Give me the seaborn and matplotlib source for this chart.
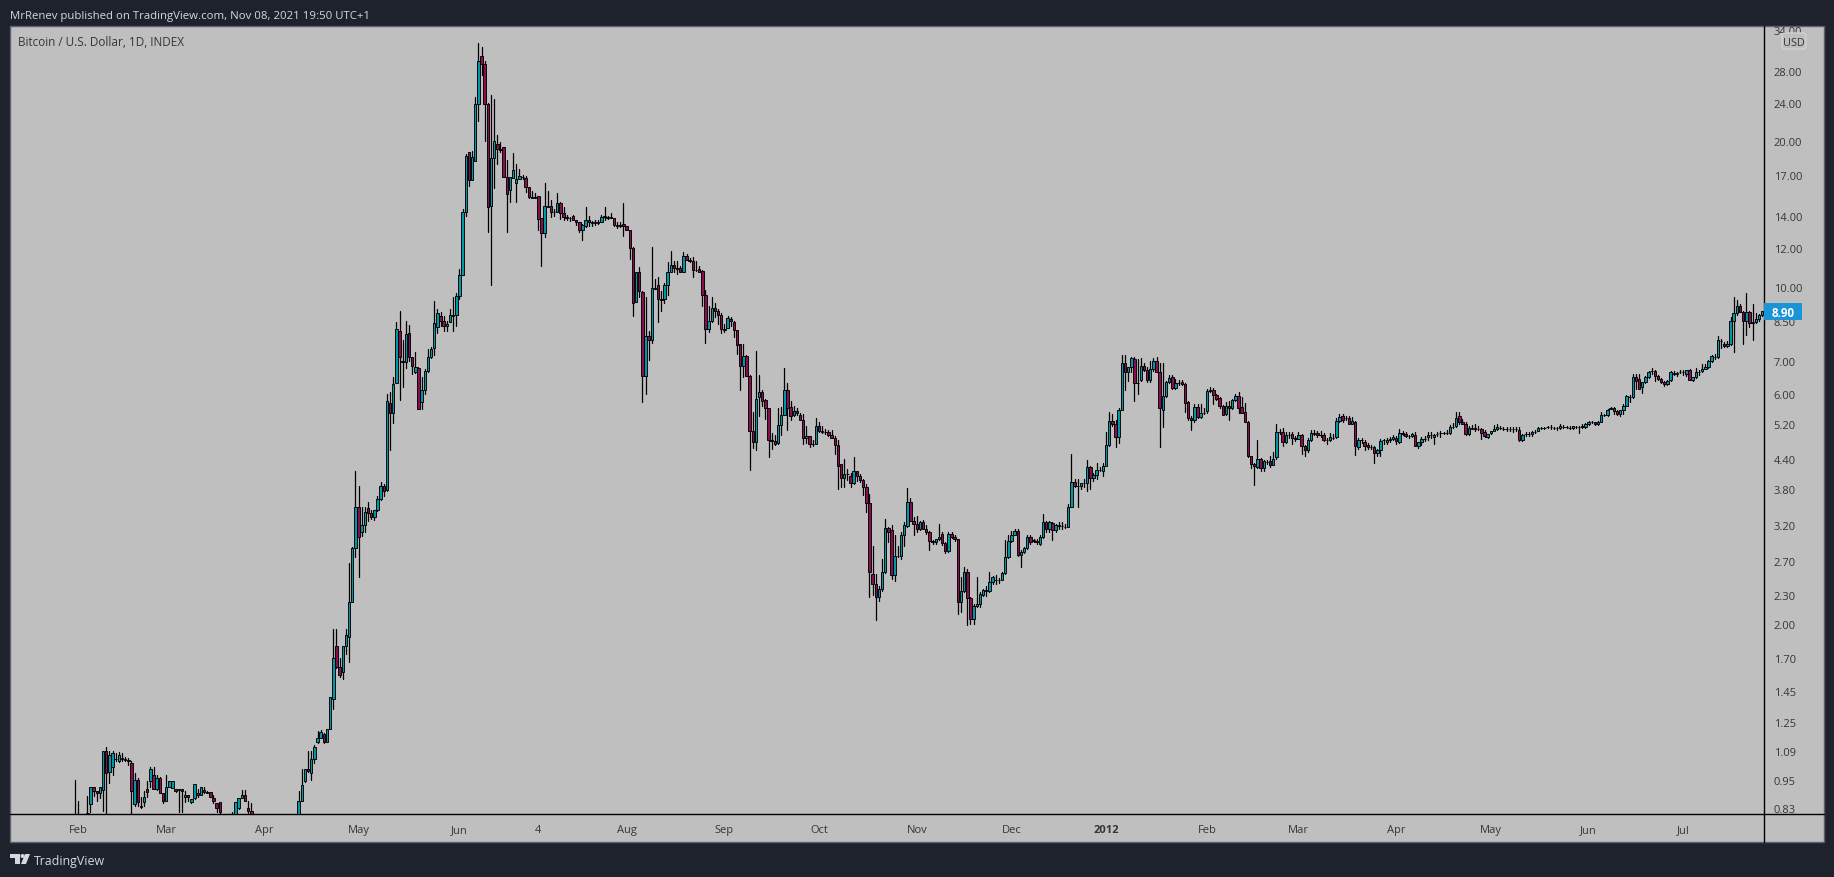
"""BTC/USD daily candles, TradingView light-grey layout (Feb 2011 - Jul 2012)."""
import numpy as np
import pandas as pd
import matplotlib
matplotlib.use("Agg")
import matplotlib.pyplot as plt
from matplotlib.patches import Rectangle, FancyBboxPatch, Circle, Polygon
import seaborn as sns

sns.set_theme(style="white")
plt.rcParams["font.family"] = ["Open Sans", "DejaVu Sans"]

# ── Data (USD, one entry per daily bar) ──────────────────────────────────────
opens = [
    .78,.78,.78,.78,.80,.845,.92,.90,.89,.905,
    1.09,.985,1.01,1.05,1.04,1.055,1.05,1.045,1.03,.845,
    .95,.84,.855,.91,.945,.97,.91,.96,.89,.86,
    .92,.915,.91,.91,.91,.875,.885,.855,.87,.89,
    .885,.905,.895,.895,.87,.85,.855,.79,.78,.78,
    .78,.80,.83,.87,.885,.83,.82,
    .78,.77,.76,.75,.74,.73,.72,.71,.70,.72,.74,.75,.77,.78,
    .80,.86,.945,1.00,.98,1.05,1.14,1.16,1.18,1.14,1.21,1.40,1.80,1.63,1.59,1.80,
    1.88,2.22,2.87,3.49,3.10,3.20,3.47,3.39,3.33,3.44,
    3.63,3.86,3.79,5.75,5.47,6.32,8.09,7.0,6.97,8.0,
    7.15,6.65,6.78,5.77,6.11,6.68,7.15,7.46,8.25,8.7,
    8.49,8.3,8.45,8.75,8.73,9.58,10.55,14.3,19.0,16.65,
    18.2,23.9,30.0,28.9,23.9,14.7,18.5,19.8,19.3,19.5,
    16.9,15.85,16.8,16.4,16.72,16.9,16.8,16.1,15.35,15.35,
    15.4,13.9,12.9,14.7,14.7,14.3,14.3,14.9,14.2,13.95,
    13.9,14.0,13.75,13.6,13.1,13.35,13.75,13.6,13.6,13.6,
    13.6,13.95,13.95,13.95,13.9,13.4,13.4,13.5,13.35,13.1,
    12.0,9.3,10.7,9.75,6.53,7.9,7.75,9.95,10.1,9.43,
    9.45,10.1,10.75,11.1,10.93,10.95,10.75,11.58,11.35,11.3,
    10.85,10.9,10.8,9.6,8.17,8.5,9.03,8.9,8.75,8.17,
    8.2,8.57,8.45,8.13,7.6,6.85,7.17,6.53,5.02,4.77,
    5.9,6.05,5.82,5.6,4.8,4.78,4.75,5.17,5.42,6.1,
    5.63,5.42,5.53,5.42,5.3,4.85,4.9,4.73,4.72,5.14,
    5.02,5.0,5.0,4.93,4.85,4.7,
    4.29,4.01,4.09,4.05,3.92,4.15,4.05,3.97,3.85,3.56,
    2.54,2.42,2.27,2.36,2.56,3.16,3.13,2.53,2.77,2.76,
    3.05,3.19,3.58,3.27,3.22,3.15,3.25,3.15,3.1,2.97,
    2.95,3.0,3.07,2.94,2.83,3.07,3.03,3.0,2.22,2.34,
    2.56,2.26,2.05,2.18,2.2,2.3,2.35,2.34,2.44,2.47,
    2.46,2.47,2.55,2.75,2.97,3.06,3.12,2.78,2.82,2.87,
    3.03,2.98,2.97,
    2.93,3.03,3.25,3.14,3.23,3.13,3.20,3.19,3.18,3.18,
    3.50,3.93,3.87,3.86,3.92,3.92,4.22,4.01,4.07,4.17,
    4.15,4.25,4.69,5.27,5.20,4.88,5.55,6.95,6.67,6.80,
    7.08,6.32,6.40,6.85,6.72,6.40,6.75,7.00,6.65,5.55,
    5.92,6.35,6.50,6.17,6.30,6.33,6.27,5.78,5.35,5.28,
    5.63,5.37,5.48,5.53,6.08,6.12,5.97,5.87,5.66,5.44,
    5.66,5.60,5.82,5.92,5.62,5.50,5.25,4.45,4.29,4.22,
    4.39,4.20,4.33,4.35,4.27,4.44,
    5.00,5.00,4.76,4.93,4.95,4.85,4.84,4.92,4.68,4.58,
    4.80,4.97,4.97,4.92,4.92,4.82,4.81,4.86,4.87,5.27,
    5.40,5.33,5.33,5.20,5.24,4.66,4.80,4.76,4.69,4.66,
    4.65,4.53,4.58,4.80,4.76,4.80,4.84,4.86,4.77,4.97,
    4.95,4.90,4.90,4.93,4.68,4.77,4.84,4.88,4.92,4.87,
    4.95,4.97,4.97,4.97,4.97,5.12,5.14,5.40,5.25,5.20,
    4.95,5.10,5.10,5.08,5.08,5.00,4.88,4.97,5.02,5.07,
    5.10,5.08,5.07,5.06,5.07,5.07,5.05,4.82,4.95,4.95,
    4.95,5.00,5.02,5.10,5.10,5.12,5.11,5.10,5.10,5.10,
    5.12,5.12,5.10,5.10,5.12,5.13,5.12,5.12,5.18,5.25,
    5.23,5.18,5.25,5.43,5.43,5.58,5.60,5.52,5.45,5.55,
    5.67,5.90,5.90,6.50,6.44,6.20,6.33,6.50,6.68,6.68,
    6.53,6.43,6.34,6.28,6.40,6.63,6.63,6.66,6.66,6.58,
    6.72,6.40,6.50,6.66,6.68,6.76,6.80,7.02,7.15,7.15,
    7.70,7.62,7.55,7.60,8.49,8.80,9.13,8.85,8.49,8.87,
    8.40,8.45,8.55,8.73,
]
highs = [
    .95,.86,.79,.79,.88,.92,.92,.90,.92,1.09,
    1.11,1.09,1.09,1.08,1.085,1.08,1.06,1.055,1.04,.98,
    .96,.875,.90,.945,1.01,1.01,.97,.965,.89,.97,
    .945,.945,.91,.91,.91,.90,.885,.865,.93,.91,
    .92,.92,.90,.895,.885,.85,.855,.80,.80,.80,
    .815,.855,.87,.905,.905,.86,.85,
    .79,.78,.77,.76,.75,.74,.73,.72,.72,.74,.75,.77,.78,.79,
    .90,1.00,1.00,1.09,1.09,1.12,1.20,1.205,1.19,1.21,1.41,1.95,1.95,1.70,1.80,1.95,
    2.67,2.88,4.15,3.86,3.49,3.49,3.58,3.44,3.44,3.68,
    3.93,3.90,6.0,6.05,6.5,8.45,8.9,7.75,8.5,8.33,
    7.15,7.33,6.82,6.5,6.75,7.43,7.5,9.33,8.99,8.85,
    8.7,8.49,8.99,9.5,9.7,10.88,14.49,18.8,19.0,19.1,
    24.75,32.0,31.4,29.3,24.0,25.0,24.5,20.6,19.95,19.5,
    18.3,16.9,18.9,18.0,17.54,17.05,16.95,16.1,15.8,15.65,
    15.45,13.9,16.4,15.8,15.15,14.5,15.65,14.95,14.6,14.1,
    13.95,14.1,13.75,13.6,13.5,14.6,14.0,13.7,13.75,13.75,
    14.1,14.6,14.0,14.2,13.9,13.6,13.6,14.9,13.35,13.1,
    12.1,10.72,11.0,9.8,9.5,8.1,12.1,10.37,10.45,9.8,
    10.2,11.25,11.85,11.3,11.3,11.05,11.8,11.7,11.45,11.5,
    11.3,11.05,10.85,9.85,9.1,9.5,9.25,9.0,8.8,8.35,
    8.7,8.65,8.5,8.15,7.6,7.6,7.2,6.55,5.5,7.35,
    6.55,6.1,5.85,5.6,4.98,4.93,5.6,5.63,6.78,6.3,
    5.8,5.65,5.6,5.47,5.45,5.15,4.9,4.8,5.35,5.25,
    5.15,5.07,5.05,5.05,4.9,4.8,
    4.29,4.39,4.19,4.1,4.43,4.15,4.09,4.0,3.9,3.72,
    2.9,2.54,2.4,2.72,3.3,3.18,3.2,3.05,2.9,3.1,
    3.25,3.83,3.65,3.33,3.35,3.27,3.28,3.2,3.12,2.98,
    3.0,3.22,3.1,2.95,3.1,3.1,3.05,3.0,2.5,2.62,
    2.6,2.27,2.2,2.5,2.33,2.36,2.4,2.56,2.51,2.53,
    2.49,2.56,2.98,3.05,3.12,3.14,3.14,2.84,2.89,3.05,
    3.05,3.0,3.0,
    3.05,3.38,3.27,3.27,3.25,3.22,3.25,3.25,3.22,3.55,
    4.50,4.00,4.00,3.92,4.00,4.37,4.25,4.10,4.32,4.22,
    4.30,5.00,5.50,5.45,5.30,5.60,7.20,7.20,6.80,7.15,
    7.15,7.08,7.10,6.95,6.80,7.00,7.10,7.15,6.95,6.95,
    6.37,6.55,6.57,6.45,6.42,6.40,6.30,5.80,5.40,5.70,
    5.70,5.70,5.60,6.15,6.20,6.17,6.00,5.90,5.68,5.78,
    5.80,5.85,5.98,6.05,5.90,5.75,5.26,4.46,4.30,4.80,
    4.42,4.37,4.37,4.45,4.54,5.20,
    5.08,5.10,5.00,5.00,5.00,4.90,5.00,4.96,4.70,4.85,
    5.05,5.05,5.03,5.03,4.97,4.85,4.97,4.95,5.35,5.45,
    5.45,5.40,5.40,5.38,5.26,4.85,4.85,4.82,4.75,4.70,
    4.68,4.60,4.83,4.83,4.85,4.88,4.93,4.90,5.08,5.01,
    5.00,4.93,4.98,5.00,4.77,4.87,4.90,5.00,5.00,4.95,
    5.00,5.01,5.00,5.05,5.17,5.22,5.50,5.50,5.32,5.25,
    5.14,5.16,5.18,5.14,5.10,5.05,4.95,5.02,5.17,5.18,
    5.14,5.12,5.11,5.12,5.12,5.11,5.12,4.95,5.00,5.00,
    5.02,5.05,5.11,5.11,5.13,5.14,5.16,5.13,5.11,5.19,
    5.16,5.15,5.14,5.15,5.15,5.15,5.18,5.21,5.26,5.27,
    5.24,5.26,5.50,5.45,5.57,5.63,5.62,5.54,5.56,5.72,
    5.95,5.95,6.58,6.58,6.60,6.35,6.53,6.68,6.78,6.71,
    6.55,6.47,6.38,6.39,6.68,6.68,6.66,6.71,6.71,6.73,
    6.75,6.50,6.78,6.72,6.90,6.90,7.03,7.20,7.25,7.90,
    7.80,7.68,7.70,8.65,9.50,9.40,9.20,8.90,9.70,8.92,
    9.20,8.80,8.78,8.92,
]
lows = [
    .75,.75,.76,.76,.78,.815,.88,.86,.87,.82,
    .80,.935,.97,1.04,1.035,1.04,1.04,1.02,.80,.84,
    .84,.83,.84,.875,.92,.91,.905,.89,.85,.86,
    .92,.915,.895,.815,.815,.855,.86,.85,.865,.875,
    .885,.89,.89,.875,.85,.815,.80,.78,.77,.77,
    .77,.79,.825,.87,.86,.81,.79,
    .76,.75,.74,.73,.72,.71,.70,.69,.69,.70,.72,.74,.75,.77,
    .79,.86,.94,.985,.95,1.03,1.13,1.16,1.13,1.14,1.21,1.33,1.62,1.55,1.54,1.73,
    1.67,2.22,2.75,2.50,3.04,3.10,3.27,3.30,3.28,3.42,
    3.61,3.68,3.77,4.59,5.22,6.32,5.82,6.2,6.78,7.0,
    6.6,6.62,5.58,5.58,6.0,6.65,7.1,7.2,8.0,8.3,
    8.1,8.1,8.45,8.1,8.3,9.43,10.55,14.0,16.2,16.65,
    18.2,22.1,27.5,20.0,13.0,10.1,16.05,18.0,19.0,16.9,
    13.0,15.0,16.8,15.0,16.7,16.7,15.7,15.3,15.3,15.25,
    13.1,11.05,12.7,14.6,13.95,14.0,14.3,13.8,13.75,13.75,
    13.7,13.75,13.45,13.0,12.5,13.3,13.35,13.35,13.45,13.5,
    13.6,13.75,13.8,13.85,13.35,13.2,13.3,12.75,13.1,11.4,
    8.7,9.3,9.5,5.77,6.0,7.05,7.65,9.9,8.45,8.9,
    9.25,9.6,10.75,10.75,10.6,10.7,10.75,11.35,11.25,10.45,
    10.8,10.7,9.1,7.65,8.05,8.45,8.65,8.35,8.0,8.05,
    8.2,8.3,7.85,7.25,6.1,6.5,6.53,4.17,4.63,4.58,
    5.4,5.67,5.32,4.43,4.61,4.7,4.73,4.93,5.42,5.05,
    5.3,5.4,5.42,5.28,4.72,4.75,4.66,4.68,4.72,5.0,
    4.97,4.95,4.9,4.85,4.5,3.81,
    3.84,3.84,3.98,3.85,3.9,3.95,3.93,3.7,3.41,2.27,
    2.3,2.04,2.23,2.34,2.55,2.96,2.48,2.45,2.75,2.73,
    2.9,3.17,3.27,3.06,3.1,3.13,3.14,3.07,2.85,2.93,
    2.93,2.98,2.92,2.8,2.82,3.02,2.97,2.1,2.12,2.33,
    1.99,2.0,2.0,2.17,2.17,2.28,2.28,2.33,2.42,2.42,
    2.43,2.46,2.54,2.74,2.95,3.05,2.76,2.62,2.8,2.86,
    2.93,2.95,2.93,
    2.92,3.02,3.10,3.10,2.98,3.10,3.15,3.15,3.16,3.18,
    3.50,3.85,3.50,3.80,3.85,3.77,3.80,3.95,4.00,4.15,
    4.05,4.24,4.68,5.15,4.65,4.75,5.54,6.10,6.38,6.65,
    5.80,6.00,6.38,6.70,6.35,6.35,6.70,6.65,4.65,5.12,
    5.90,6.30,6.13,6.15,6.25,6.25,5.50,5.30,5.05,5.25,
    5.35,5.35,5.45,5.48,6.05,5.72,5.83,5.60,5.42,5.42,
    5.30,5.58,5.80,5.47,5.47,5.24,4.44,4.20,3.88,4.20,
    4.14,4.15,4.28,4.22,4.26,4.40,
    4.95,4.68,4.74,4.85,4.72,4.78,4.83,4.49,4.45,4.55,
    4.78,4.92,4.88,4.87,4.78,4.72,4.78,4.84,4.85,5.25,
    5.25,5.28,5.18,5.18,4.47,4.60,4.75,4.58,4.60,4.60,
    4.30,4.45,4.45,4.72,4.72,4.76,4.80,4.72,4.75,4.92,
    4.87,4.85,4.88,4.68,4.63,4.70,4.78,4.80,4.85,4.72,
    4.90,4.88,4.95,4.94,4.96,5.10,5.12,5.18,5.18,4.93,
    4.93,5.06,5.03,5.05,4.83,4.88,4.85,4.96,5.01,5.05,
    5.07,5.05,5.02,5.02,5.00,5.02,4.78,4.78,4.91,4.91,
    4.91,4.97,5.01,5.08,5.06,5.10,5.08,5.06,5.05,5.06,
    5.10,5.10,5.08,5.08,5.10,4.98,5.10,5.10,5.17,5.22,
    5.17,5.17,5.24,5.40,5.40,5.57,5.45,5.42,5.40,5.45,
    5.66,5.77,5.88,6.14,6.14,6.03,6.32,6.48,6.60,6.38,
    6.40,6.32,6.23,6.26,6.38,6.55,6.54,6.62,6.55,6.54,
    6.40,6.38,6.48,6.55,6.65,6.74,6.78,6.98,7.08,7.13,
    7.45,7.50,7.48,7.58,7.33,8.75,8.85,7.60,7.95,8.25,
    7.75,8.40,8.50,8.68,
]
closes = [
    .78,.78,.78,.78,.81,.92,.90,.89,.92,1.09,
    .98,1.07,1.08,1.05,1.07,1.05,1.045,1.04,.90,.95,
    .855,.835,.875,.895,1.00,.91,.96,.89,.86,.92,
    .945,.945,.90,.905,.90,.885,.875,.865,.93,.885,
    .92,.895,.89,.875,.86,.83,.815,.79,.78,.78,
    .79,.855,.87,.885,.86,.82,.80,
    .77,.76,.75,.74,.73,.72,.71,.70,.72,.74,.75,.77,.78,.79,
    .86,.925,1.00,.99,1.05,1.11,1.16,1.195,1.14,1.21,1.41,1.70,1.63,1.57,1.80,1.90,
    2.22,2.87,3.49,3.03,3.20,3.41,3.39,3.33,3.44,3.63,
    3.86,3.77,5.8,5.47,6.29,8.17,7.15,6.97,7.98,7.15,
    6.85,6.82,5.58,6.11,6.68,7.15,7.43,8.4,8.8,8.49,
    8.3,8.37,8.73,8.7,9.58,10.55,14.3,18.7,16.65,18.55,
    23.9,29.4,28.9,23.9,14.6,18.5,20.0,19.3,19.2,16.9,
    15.55,16.9,17.45,16.72,16.95,16.85,16.1,15.35,15.3,15.3,
    13.81,12.9,14.7,14.65,14.3,14.25,14.9,14.2,13.95,13.9,
    13.85,13.75,13.6,13.1,13.4,13.75,13.6,13.58,13.58,13.58,
    13.95,14.0,13.9,13.9,13.4,13.38,13.38,13.35,13.1,12.0,
    9.25,10.72,9.8,6.53,7.9,7.75,9.95,9.9,9.43,9.4,
    10.1,10.75,11.1,10.93,10.9,10.75,11.58,11.35,11.3,10.82,
    10.85,10.75,9.6,8.17,8.5,9.03,8.9,8.75,8.17,8.15,
    8.6,8.5,8.13,7.57,6.85,7.17,6.53,5.02,4.77,5.85,
    6.05,5.8,5.6,4.8,4.78,4.72,5.17,5.42,6.1,5.6,
    5.4,5.53,5.47,5.3,4.85,4.9,4.73,4.73,5.14,5.02,
    5.0,5.0,4.93,4.85,4.7,4.25,
    4.01,4.09,4.08,3.92,4.15,4.05,3.97,3.85,3.56,2.56,
    2.42,2.27,2.36,2.56,3.16,3.1,2.53,2.77,2.76,3.05,
    3.2,3.58,3.27,3.22,3.15,3.25,3.15,3.1,2.97,2.95,
    3.0,3.03,2.94,2.83,3.07,3.03,3.0,2.22,2.34,2.56,
    2.26,2.05,2.18,2.2,2.31,2.35,2.34,2.44,2.5,2.46,
    2.47,2.55,2.75,2.97,3.06,3.12,2.78,2.82,2.87,3.03,
    2.96,2.97,2.96,
    3.03,3.25,3.14,3.25,3.13,3.20,3.19,3.19,3.18,3.50,
    3.93,3.87,3.86,3.92,3.92,4.22,4.01,4.07,4.17,4.17,
    4.25,4.69,5.27,5.20,4.88,5.55,6.95,6.67,6.80,7.10,
    6.32,6.30,6.85,6.72,6.40,6.75,7.00,6.67,5.60,5.92,
    6.35,6.48,6.17,6.30,6.30,6.27,5.73,5.35,5.28,5.63,
    5.37,5.48,5.47,6.08,6.12,5.97,5.85,5.66,5.42,5.66,
    5.60,5.82,5.92,5.60,5.47,5.25,4.45,4.29,4.24,4.39,
    4.20,4.35,4.33,4.27,4.39,5.00,
    5.00,4.76,4.92,4.92,4.85,4.84,4.92,4.68,4.58,4.80,
    4.97,4.96,4.92,4.92,4.82,4.81,4.87,4.86,5.27,5.37,
    5.30,5.33,5.20,5.27,4.68,4.80,4.80,4.68,4.66,4.65,
    4.53,4.58,4.78,4.80,4.80,4.84,4.88,4.78,4.97,4.96,
    4.90,4.90,4.95,4.68,4.77,4.84,4.84,4.93,4.92,4.92,
    4.95,4.97,4.97,4.97,5.12,5.12,5.35,5.25,5.20,4.95,
    5.10,5.08,5.08,5.08,4.97,4.90,4.95,5.02,5.07,5.12,
    5.10,5.08,5.06,5.06,5.07,5.07,4.80,4.93,4.95,4.96,
    5.00,5.00,5.10,5.10,5.10,5.12,5.11,5.10,5.10,5.15,
    5.12,5.12,5.10,5.14,5.12,5.13,5.15,5.18,5.25,5.25,
    5.18,5.25,5.43,5.43,5.55,5.60,5.52,5.45,5.55,5.67,
    5.93,5.90,6.50,6.37,6.14,6.33,6.50,6.66,6.68,6.53,
    6.43,6.34,6.27,6.38,6.66,6.60,6.58,6.66,6.64,6.72,
    6.40,6.50,6.66,6.66,6.76,6.80,7.00,7.17,7.15,7.75,
    7.70,7.55,7.62,8.49,8.80,9.13,8.85,8.49,8.85,8.40,
    8.45,8.55,8.73,8.90,
]
price_ticks = [34, 28, 24, 20, 17, 14, 12, 10, 8.5, 7, 6, 5.2, 4.4, 3.8, 3.2,
               2.7, 2.3, 2.0, 1.7, 1.45, 1.25, 1.09, .95, .83]
month_labels = ["Feb", "Mar", "Apr", "May", "Jun", "4", "Aug", "Sep", "Oct", "Nov",
                "Dec", "2012", "Feb", "Mar", "Apr", "May", "Jun", "Jul"]
month_bars = [1, 29, 60, 90, 122, 147, 175, 206, 236, 267, 297, 327, 359, 388, 419, 449, 480, 510]

W, H = 1834, 878
DARK = "#1e222d"
PANEL = "#bfbfbf"
BORDER = "#5d606b"
UP = "#0097a7"
DOWN = "#880e4f"
TEXT = "#363636"

candles = pd.DataFrame({"open": opens, "high": highs, "low": lows, "close": closes})
candles["bar"] = np.arange(len(candles))
candles["bottom"] = candles[["open", "close"]].min(axis=1)
candles["body"] = (candles["open"] - candles["close"]).abs()

wicks = candles.melt(id_vars="bar", value_vars=["high", "low"], value_name="price")

fig = plt.figure(figsize=(W / 100, H / 100), dpi=100, facecolor=DARK)

# panel behind everything, drawn in pixel coordinates
bg = fig.add_axes([0, 0, 1, 1], zorder=0)
bg.set_xlim(0, W)
bg.set_ylim(H, 0)
bg.axis("off")
panel = Rectangle((10, 27), 1814, 816, facecolor=PANEL, edgecolor=BORDER, lw=1)
bg.add_patch(panel)
bg.plot([1764, 1764], [27, 843], color="black", lw=1)
bg.plot([10, 1824], [815, 815], color="black", lw=1)

# price pane
ax = fig.add_axes([10 / W, 1 - 815 / H, 1754 / W, 788 / H], zorder=1)
ax.patch.set_alpha(0)

sns.lineplot(data=wicks, x="bar", y="price", units="bar", estimator=None, errorbar=None,
             color="black", lw=0.9, legend=False, zorder=1, ax=ax)
for mask, colour in [(candles["close"] >= candles["open"], UP),
                     (candles["close"] < candles["open"], DOWN)]:
    sub = candles[mask]
    sns.barplot(x=sub["bar"].values, y=sub["body"].values, bottom=sub["bottom"].values,
                native_scale=True, color=colour, saturation=1, errorbar=None, width=0.78,
                edgecolor="black", linewidth=0.65, zorder=2, ax=ax)

ax.set_yscale("log")
ax.set_ylim(0.807, 34.7)
ax.set_xlim(-20.5, 535.6)
ax.minorticks_off()
for s in ax.spines.values():
    s.set_visible(False)
ax.set_xlabel("")
ax.set_ylabel("")
ax.yaxis.tick_right()
ax.set_yticks(price_ticks)
ax.set_yticklabels([f"{p:.2f}" for p in price_ticks], fontsize=8, color=TEXT)
ax.set_xticks(month_bars)
ax.set_xticklabels(month_labels, fontsize=8, color=TEXT)
ax.tick_params(axis="both", which="both", length=0)
ax.tick_params(axis="y", pad=7)
ax.tick_params(axis="x", pad=7)
ax.minorticks_off()
for lab in ax.get_xticklabels():
    if lab.get_text() == "2012":
        lab.set_fontweight("bold")
for lab in ax.get_yticklabels():
    lab.set_clip_on(True)
    lab.set_clip_path(panel)

# overlay for the texts and tags
top = fig.add_axes([0, 0, 1, 1], zorder=2)
top.set_xlim(0, W)
top.set_ylim(H, 0)
top.axis("off")
top.text(10, 16, "MrRenev published on TradingView.com, Nov 08, 2021 19:50 UTC+1",
         fontsize=8.2, color="#d6d8de", va="center", ha="left")
top.text(18, 42.5, "Bitcoin / U.S. Dollar, 1D, INDEX", fontsize=8.5, color=TEXT, va="center", ha="left")
top.add_patch(FancyBboxPatch((1782, 34), 24, 16, boxstyle="round,pad=0,rounding_size=3",
                             facecolor=PANEL, edgecolor="#d2d3d6", lw=1))
top.text(1794, 43.5, "USD", fontsize=7.8, color=TEXT, va="center", ha="center")
top.add_patch(Rectangle((1764, 304), 38, 17, facecolor="#1a94d7", edgecolor="none"))
top.text(1783, 313.5, "8.90", fontsize=8.4, color="white", fontweight="bold", va="center", ha="center")

# footer logo
logo = "#d6d8de"
top.add_patch(Rectangle((10, 855), 10, 4.5, facecolor=logo, edgecolor="none"))
top.add_patch(Rectangle((14.5, 855), 5.5, 10, facecolor=logo, edgecolor="none"))
top.add_patch(Circle((22.5, 857), 2, facecolor=logo, edgecolor="none"))
top.add_patch(Polygon([[25, 855], [30, 855], [26, 865], [21, 865]], facecolor=logo, edgecolor="none"))
top.text(34, 862, "TradingView", fontsize=8.9, color=logo, va="center", ha="left")

fig.savefig("out.png", dpi=100, facecolor=DARK)
